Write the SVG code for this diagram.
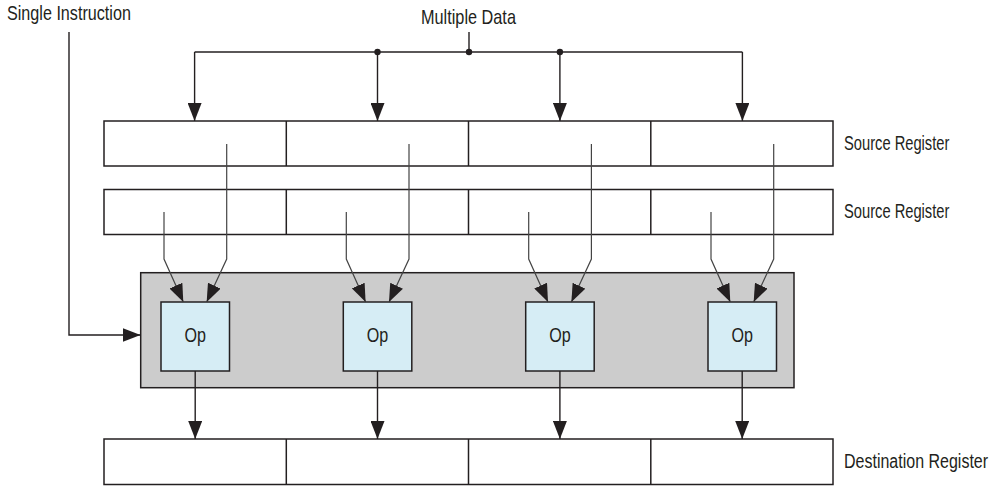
<svg xmlns="http://www.w3.org/2000/svg" width="995" height="491" viewBox="0 0 995 491">
<defs>
<marker id="ah" markerUnits="userSpaceOnUse" markerWidth="18" markerHeight="14" refX="18" refY="7" orient="auto" viewBox="0 0 18 14">
<path d="M0,0 L18,7 L0,14 z" fill="#231f20"/>
</marker>
<style>
.reg{fill:#ffffff;stroke:#231f20;stroke-width:1.5}
.unit{fill:#cccccc;stroke:#231f20;stroke-width:1.5}
.op{fill:#d6edf5;stroke:#231f20;stroke-width:1.5}
.wire{fill:none;stroke:#231f20;stroke-width:1.4}
.thin{fill:none;stroke:#444444;stroke-width:1.2}
.arr{marker-end:url(#ah)}
.lbl{font-family:"Liberation Sans",Arial,sans-serif;font-size:20px;fill:#231f20}
</style>
</defs>
<rect width="995" height="491" fill="#ffffff"/>

<g id="labels">
<text class="lbl" transform="translate(7 20) scale(0.808 1)">Single Instruction</text>
<text class="lbl" transform="translate(421 24) scale(0.814 1)">Multiple Data</text>
</g>

<g id="source-register-1">
<rect class="reg" x="104" y="121" width="729" height="45"/>
<line class="reg" x1="286.3" y1="121" x2="286.3" y2="166"/>
<line class="reg" x1="468.5" y1="121" x2="468.5" y2="166"/>
<line class="reg" x1="650.8" y1="121" x2="650.8" y2="166"/>
<text class="lbl" transform="translate(844 149.5) scale(0.735 1)">Source Register</text>
</g>

<g id="source-register-2">
<rect class="reg" x="104" y="189.5" width="729" height="45"/>
<line class="reg" x1="286.3" y1="189.5" x2="286.3" y2="234.5"/>
<line class="reg" x1="468.5" y1="189.5" x2="468.5" y2="234.5"/>
<line class="reg" x1="650.8" y1="189.5" x2="650.8" y2="234.5"/>
<text class="lbl" transform="translate(844 217.5) scale(0.735 1)">Source Register</text>
</g>

<g id="destination-register">
<rect class="reg" x="104" y="439" width="729" height="45.5"/>
<line class="reg" x1="286.3" y1="439" x2="286.3" y2="484.5"/>
<line class="reg" x1="468.5" y1="439" x2="468.5" y2="484.5"/>
<line class="reg" x1="650.8" y1="439" x2="650.8" y2="484.5"/>
<text class="lbl" transform="translate(844 467.5) scale(0.8 1)">Destination Register</text>
</g>

<g id="simd-unit">
<rect class="unit" x="140.7" y="272.7" width="653.3" height="115"/>
</g>

<g id="op-1">
<rect class="op" x="161" y="302" width="68.5" height="69"/>
<text class="lbl" text-anchor="middle" transform="translate(195.2 342) scale(0.806 1)">Op</text>
</g>
<g id="op-2">
<rect class="op" x="343.3" y="302" width="68.5" height="69"/>
<text class="lbl" text-anchor="middle" transform="translate(377.5 342) scale(0.806 1)">Op</text>
</g>
<g id="op-3">
<rect class="op" x="525.7" y="302" width="68.5" height="69"/>
<text class="lbl" text-anchor="middle" transform="translate(559.9 342) scale(0.806 1)">Op</text>
</g>
<g id="op-4">
<rect class="op" x="708" y="302" width="68.5" height="69"/>
<text class="lbl" text-anchor="middle" transform="translate(742.2 342) scale(0.806 1)">Op</text>
</g>

<g id="connectors">
<!-- single instruction -->
<path class="wire arr" d="M69,32 V335 H140.5"/>
<!-- multiple data bus -->
<path class="wire" d="M469,32 V52"/>
<path class="wire" d="M194.6,52 H742.4"/>
<path class="wire arr" d="M194.6,52 V121"/>
<path class="wire arr" d="M742.4,52 V121"/>
<path class="wire arr" d="M377.5,52 V121"/>
<path class="wire arr" d="M559.9,52 V121"/>
<circle cx="377.5" cy="52" r="3.2" fill="#231f20"/>
<circle cx="469" cy="52" r="3.2" fill="#231f20"/>
<circle cx="559.9" cy="52" r="3.2" fill="#231f20"/>
<!-- operand inputs -->
<path class="thin arr" d="M164,212 V259 L183.3,302"/>
<path class="thin arr" d="M226.7,144 V259 L206.7,302"/>
<path class="thin arr" d="M346.3,212 V259 L365.6,302"/>
<path class="thin arr" d="M409,144 V259 L389,302"/>
<path class="thin arr" d="M528.7,212 V259 L548,302"/>
<path class="thin arr" d="M591.4,144 V259 L571.4,302"/>
<path class="thin arr" d="M711,212 V259 L730.3,302"/>
<path class="thin arr" d="M773.7,144 V259 L753.7,302"/>
<!-- outputs -->
<path class="wire arr" d="M195.2,371 V439"/>
<path class="wire arr" d="M377.5,371 V439"/>
<path class="wire arr" d="M559.9,371 V439"/>
<path class="wire arr" d="M742.2,371 V439"/>
</g>
</svg>
